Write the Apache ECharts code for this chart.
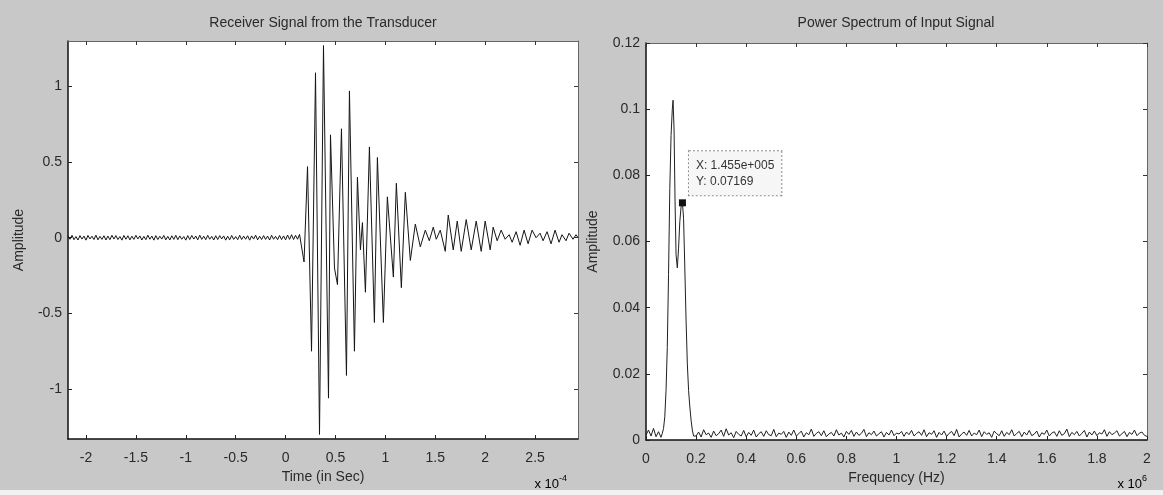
<!DOCTYPE html>
<html>
<head>
<meta charset="utf-8">
<script src="https://cdn.jsdelivr.net/npm/echarts@6/dist/echarts.min.js"></script>
<style>
html,body{margin:0;padding:0;background:#c8c8c8;}
#chart{width:1163px;height:495px;}
</style>
</head>
<body>
<div id="chart"></div>
<script>
// ---------- DATA ----------
// Left panel: time axis in units of 1e-4 s
const timeTicks = [-2, -1.5, -1, -0.5, 0, 0.5, 1, 1.5, 2, 2.5];
const ampTicks = [-1, -0.5, 0, 0.5, 1];

// pre-trigger baseline samples (uniform time grid)
const baselineStart = -2.18;
const baselineStep = 0.02;
const baselineValues = [
  0.012,-0.010,0.016,-0.013,0.008,-0.015,0.014,-0.009,0.011,-0.016,
  0.015,-0.008,0.010,-0.012,0.017,-0.014,0.009,-0.011,0.013,-0.015,
  0.011,-0.013,0.016,-0.009,0.014,-0.012,0.008,-0.016,0.015,-0.010,
  0.013,-0.014,0.010,-0.011,0.016,-0.008,0.012,-0.015,0.009,-0.013,
  0.017,-0.010,0.011,-0.016,0.014,-0.012,0.010,-0.009,0.015,-0.014,
  0.009,-0.015,0.013,-0.011,0.016,-0.013,0.012,-0.010,0.008,-0.016,
  0.014,-0.012,0.015,-0.009,0.011,-0.014,0.017,-0.011,0.010,-0.013,
  0.016,-0.010,0.009,-0.015,0.013,-0.012,0.014,-0.008,0.012,-0.016,
  0.010,-0.014,0.015,-0.011,0.008,-0.013,0.016,-0.012,0.011,-0.010,
  0.013,-0.016,0.012,-0.009,0.017,-0.014,0.010,-0.012,0.014,-0.011,
  0.011,-0.015,0.016,-0.010,0.009,-0.013,0.015,-0.012,0.012,-0.014,
  0.018,-0.011,0.020,-0.012,0.016,-0.010,0.022,0.030
];

// received burst (time x1e-4 s)
const burstTime = [
  0.165,0.185,0.22,0.26,0.30,0.34,0.38,0.43,0.45,0.49,0.52,0.56,0.61,0.64,0.69,0.72,0.75,0.77,0.80,0.84,
  0.89,0.92,0.98,1.02,1.08,1.11,1.16,1.20,1.25,1.30,1.35,1.40,1.44,1.48,1.51,1.55,1.60,1.63,1.68,1.72,
  1.76,1.81,1.86,1.91,1.96,2.00,2.05,2.08,2.12,2.16,2.20,2.24,2.27,2.31,2.35,2.39,2.43,2.47,2.51,2.55,
  2.58,2.62,2.66,2.70,2.74,2.77,2.81,2.84,2.88,2.91,2.93
];
const burstValues = [
  0.03,-0.16,0.47,-0.75,1.09,-1.30,1.27,-1.06,0.68,-0.20,-0.31,0.72,-0.91,0.97,-0.75,0.40,-0.08,0.10,-0.36,0.60,
  -0.56,0.53,-0.56,0.27,-0.26,0.36,-0.33,0.30,-0.15,0.09,-0.06,0.05,-0.02,0.07,-0.01,0.05,-0.09,0.15,-0.08,0.11,
  -0.09,0.12,-0.08,0.11,-0.09,0.11,-0.08,0.07,-0.02,0.05,-0.01,0.02,-0.03,0.04,-0.05,0.05,-0.04,0.05,0.00,0.03,
  -0.02,0.04,-0.04,0.05,-0.03,0.02,-0.02,0.03,-0.01,0.02,0.00
];

// Right panel: frequency in units of 1e6 Hz
const freqTicks = [0,0.2,0.4,0.6,0.8,1,1.2,1.4,1.6,1.8,2];
const powerTicks = [0,0.02,0.04,0.06,0.08,0.1,0.12];

const peakFreq = [
  0,0.01,0.02,0.03,0.04,0.05,0.06,0.065,0.07,0.075,0.08,0.085,0.09,0.095,0.100,0.105,0.108,0.112,0.116,0.120,
  0.125,0.130,0.135,0.140,0.1455,0.150,0.155,0.160,0.165,0.170,0.175,0.180,0.185,0.190,0.195
];
const peakPower = [
  0.0015,0.0030,0.0012,0.0035,0.0010,0.0025,0.0008,0.0020,0.0035,0.0070,0.0150,0.0280,0.0500,0.0760,0.0920,0.1000,0.1027,0.0940,0.0720,0.0560,
  0.0520,0.0580,0.0660,0.0705,0.07169,0.0670,0.0520,0.0360,0.0230,0.0150,0.0100,0.0060,0.0030,0.0012,0.0008
];

// noise floor, uniform frequency grid from 0.2 to 2
const floorStart = 0.2;
const floorStep = 0.01;
const floorPower = [
  0.0012,0.0024,0.0009,0.0031,0.0016,0.0021,0.0008,0.0027,0.0013,0.0019,
  0.0030,0.0011,0.0034,0.0015,0.0022,0.0007,0.0026,0.0017,0.0012,0.0029,
  0.0010,0.0023,0.0014,0.0030,0.0009,0.0019,0.0025,0.0011,0.0028,0.0016,
  0.0013,0.0032,0.0010,0.0021,0.0017,0.0026,0.0008,0.0024,0.0014,0.0030,
  0.0012,0.0019,0.0027,0.0009,0.0022,0.0016,0.0033,0.0011,0.0020,0.0025,
  0.0013,0.0028,0.0010,0.0018,0.0023,0.0012,0.0031,0.0015,0.0021,0.0009,
  0.0026,0.0017,0.0029,0.0011,0.0024,0.0014,0.0020,0.0032,0.0010,0.0022,
  0.0016,0.0027,0.0012,0.0019,0.0025,0.0009,0.0023,0.0015,0.0030,0.0013,
  0.0021,0.0018,0.0026,0.0011,0.0024,0.0016,0.0029,0.0012,0.0020,0.0025,
  0.0014,0.0031,0.0010,0.0022,0.0017,0.0028,0.0008,0.0023,0.0015,0.0027,
  0.0011,0.0020,0.0026,0.0013,0.0032,0.0009,0.0018,0.0024,0.0014,0.0029,
  0.0012,0.0021,0.0016,0.0030,0.0010,0.0025,0.0017,0.0022,0.0008,0.0027,
  0.0019,0.0013,0.0028,0.0011,0.0023,0.0016,0.0031,0.0012,0.0020,0.0026,
  0.0010,0.0024,0.0015,0.0029,0.0013,0.0018,0.0027,0.0009,0.0022,0.0017,
  0.0030,0.0012,0.0021,0.0025,0.0011,0.0028,0.0014,0.0019,0.0033,0.0010,
  0.0023,0.0016,0.0026,0.0012,0.0020,0.0029,0.0009,0.0024,0.0015,0.0027,
  0.0013,0.0022,0.0018,0.0031,0.0011,0.0025,0.0016,0.0021,0.0028,0.0012,
  0.0019,0.0026,0.0010,0.0023,0.0017,0.0030,0.0013,0.0021,0.0024,0.0014,
  0.0011
];

const dataTip = { x: 0.1455, y: 0.07169, label: 'X: 1.455e+005\nY: 0.07169' };

// ---------- BUILD ----------
const signalData = [];
baselineValues.forEach((v, i) => signalData.push([baselineStart + i * baselineStep, v]));
burstTime.forEach((t, i) => signalData.push([t, burstValues[i]]));

const spectrumData = [];
peakFreq.forEach((f, i) => spectrumData.push([f, peakPower[i]]));
floorPower.forEach((p, i) => spectrumData.push([floorStart + i * floorStep, p]));

const FONT = '"Liberation Sans", Arial, sans-serif';
const txt = '#2a2a2a';

function bottomAxis(grid, min, max, ticks, name) {
  return {
    type: 'value', gridIndex: grid, position: 'bottom', min: min, max: max,
    axisLine: { show: true, onZero: false, lineStyle: { color: '#111', width: 1.5 } },
    axisTick: { show: true, inside: true, length: 4, lineStyle: { color: '#222' }, customValues: ticks },
    axisLabel: { show: true, color: txt, fontSize: 14, fontFamily: FONT, margin: 12, customValues: ticks },
    splitLine: { show: false },
    name: name, nameLocation: 'middle', nameGap: 28,
    nameTextStyle: { color: txt, fontSize: 14, fontFamily: FONT }
  };
}
function topAxis(grid, min, max, ticks) {
  return {
    type: 'value', gridIndex: grid, position: 'top', min: min, max: max,
    axisLine: { show: true, onZero: false, lineStyle: { color: '#666', width: 1 } },
    axisTick: { show: true, inside: true, length: 4, lineStyle: { color: '#333' }, customValues: ticks },
    axisLabel: { show: false },
    splitLine: { show: false }
  };
}
function leftAxis(grid, min, max, ticks, name, gap) {
  return {
    type: 'value', gridIndex: grid, position: 'left', min: min, max: max,
    axisLine: { show: true, onZero: false, lineStyle: { color: '#111', width: 1.5 } },
    axisTick: { show: true, inside: true, length: 4, lineStyle: { color: '#222' }, customValues: ticks },
    axisLabel: { show: true, color: txt, fontSize: 14, fontFamily: FONT, margin: 6, customValues: ticks },
    splitLine: { show: false },
    name: name, nameLocation: 'middle', nameGap: gap, nameRotate: 90,
    nameTextStyle: { color: txt, fontSize: 14, fontFamily: FONT }
  };
}
function rightAxis(grid, min, max, ticks) {
  return {
    type: 'value', gridIndex: grid, position: 'right', min: min, max: max,
    axisLine: { show: true, onZero: false, lineStyle: { color: '#666', width: 1 } },
    axisTick: { show: true, inside: true, length: 4, lineStyle: { color: '#333' }, customValues: ticks },
    axisLabel: { show: false },
    splitLine: { show: false }
  };
}

const option = {
  animation: false,
  backgroundColor: '#c8c8c8',
  grid: [
    { left: 68, top: 41, width: 510, height: 398, show: true, backgroundColor: '#ffffff', borderWidth: 0 },
    { left: 646, top: 43, width: 501, height: 397, show: true, backgroundColor: '#ffffff', borderWidth: 0 }
  ],
  xAxis: [
    bottomAxis(0, -2.18, 2.93, timeTicks, 'Time (in Sec)'),
    topAxis(0, -2.18, 2.93, timeTicks),
    bottomAxis(1, 0, 2, freqTicks, 'Frequency (Hz)'),
    topAxis(1, 0, 2, freqTicks)
  ],
  yAxis: [
    leftAxis(0, -1.33, 1.30, ampTicks, 'Amplitude', 42),
    rightAxis(0, -1.33, 1.30, ampTicks),
    leftAxis(1, 0, 0.12, powerTicks, 'Amplitude', 46),
    rightAxis(1, 0, 0.12, powerTicks)
  ],
  graphic: [
    { type: 'rect', shape: { x: 0, y: 490, width: 1163, height: 5 }, style: { fill: '#f2f2f2' }, z: -1 },
    { type: 'text', x: 323, y: 23, style: { text: 'Receiver Signal from the Transducer', fill: txt, font: '14px ' + FONT, align: 'center', verticalAlign: 'middle' } },
    { type: 'text', x: 896, y: 23, style: { text: 'Power Spectrum of Input Signal', fill: txt, font: '14px ' + FONT, align: 'center', verticalAlign: 'middle' } },
    { type: 'text', x: 567, y: 484, style: { text: '{a|x 10}{s|-4}', align: 'right', verticalAlign: 'middle',
        rich: { a: { fontSize: 13, fontFamily: FONT, color: txt }, s: { fontSize: 9, fontFamily: FONT, color: txt, verticalAlign: 'top', padding: [0, 0, 10, 0] } } } },
    { type: 'text', x: 1147, y: 484, style: { text: '{a|x 10}{s|6}', align: 'right', verticalAlign: 'middle',
        rich: { a: { fontSize: 13, fontFamily: FONT, color: txt }, s: { fontSize: 9, fontFamily: FONT, color: txt, verticalAlign: 'top', padding: [0, 0, 10, 0] } } } }
  ],
  series: [
    {
      type: 'line', xAxisIndex: 0, yAxisIndex: 0, data: signalData,
      symbol: 'none', lineStyle: { color: '#151515', width: 1 }, clip: true
    },
    {
      type: 'line', xAxisIndex: 2, yAxisIndex: 2, data: spectrumData,
      symbol: 'none', lineStyle: { color: '#202020', width: 1 }, clip: true,
      markPoint: {
        symbol: 'rect', symbolSize: 7,
        itemStyle: { color: '#111' },
        data: [{ coord: [dataTip.x, dataTip.y] }],
        label: {
          show: true, formatter: dataTip.label, position: [10, -48],
          backgroundColor: '#f6f6f6', borderColor: '#8a8a8a', borderWidth: 1, borderType: 'dotted',
          padding: [6, 7], fontSize: 12, lineHeight: 16, color: '#333', fontFamily: FONT, align: 'left', verticalAlign: 'top'
        }
      }
    }
  ]
};

const chart = echarts.init(document.getElementById('chart'), null, { renderer: 'canvas' });
chart.setOption(option);
</script>
</body>
</html>
